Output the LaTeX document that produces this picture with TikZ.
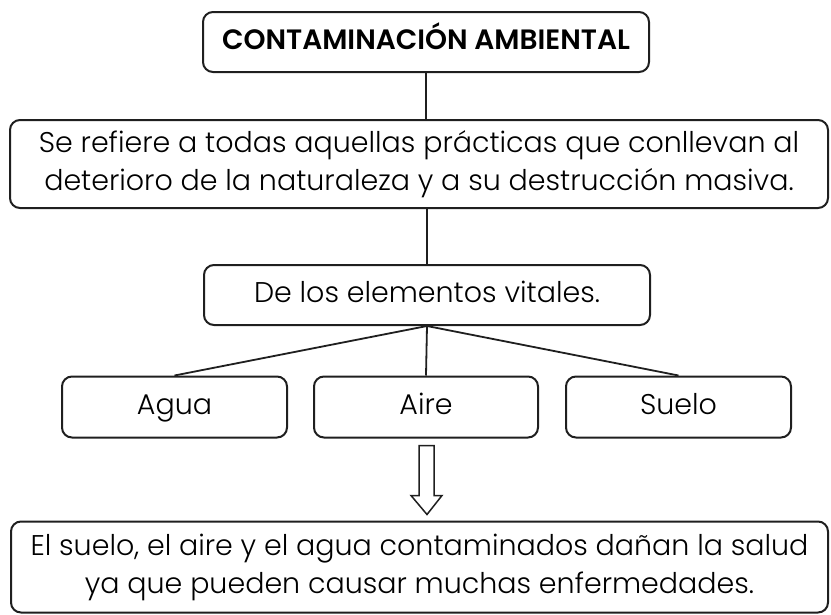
\documentclass[tikz,border=0pt]{standalone}
\usepackage{fontspec}
\setmainfont{Poppins}[UprightFont={* Light}, BoldFont={* SemiBold}]
\begin{document}
\begin{tikzpicture}[x=1pt,y=-1pt,
  box/.style={draw=black!88, line width=2pt, rounded corners=10pt, inner sep=0pt, align=center, font=\fontsize{28.5}{38}\selectfont},
  one/.style={text height=21pt, text depth=7pt},
  link/.style={draw=black!88, line width=1.8pt},
  hollow/.style={draw=black!88, line width=1.5pt, fill=white, line join=miter}]
\useasboundingbox (0,0) rectangle (831,614);
\node[box, one, minimum width=446pt, minimum height=60pt, font=\fontsize{28}{30}\selectfont\bfseries] (title) at (426,42) {CONTAMINACIÓN AMBIENTAL};
\node[box, minimum width=818pt, minimum height=88pt] (def) at (419,164) {Se refiere a todas aquellas prácticas que conllevan al\\deterioro de la naturaleza y a su destrucción masiva.};
\node[box, one, minimum width=446pt, minimum height=60pt] (elem) at (427,295) {De los elementos vitales.};
\node[box, one, minimum width=225pt, minimum height=61pt] (agua) at (174.5,407) {Agua};
\node[box, one, minimum width=224pt, minimum height=61pt] (aire) at (426,407) {Aire};
\node[box, one, minimum width=225pt, minimum height=61pt] (suelo) at (678.5,407) {Suelo};
\node[box, minimum width=817pt, minimum height=91pt] (bot) at (419.5,567) {El suelo, el aire y el agua contaminados dañan la salud\\ya que pueden causar muchas enfermedades.};
\draw[link] (title.south) -- (title.south |- def.north);
\draw[link] (elem.north |- def.south) -- (elem.north);
\draw[link] (elem.south) -- (agua.north);
\draw[link] (elem.south) -- (aire.north);
\draw[link] (elem.south) -- (suelo.north);
\draw[hollow, shift={(aire.south)}] (-7,7) -- (-7,57) -- (-15,57) -- (1,76) -- (16,57) -- (8,57) -- (8,7) -- cycle;
\end{tikzpicture}
\end{document}
